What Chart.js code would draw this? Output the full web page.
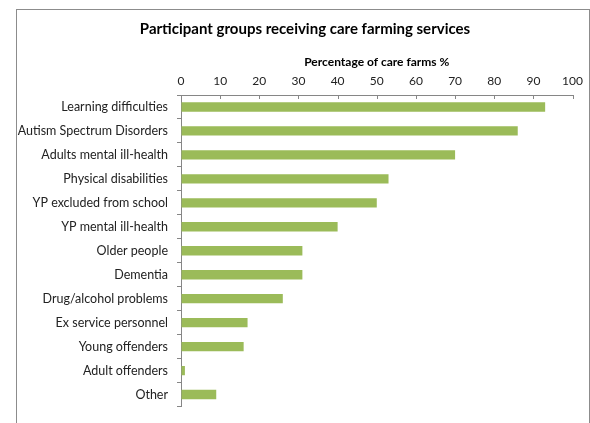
<!DOCTYPE html>
<html>
<head>
<meta charset="utf-8">
<title>Participant groups receiving care farming services</title>
<script src="https://cdn.jsdelivr.net/npm/chart.js@4/dist/chart.umd.min.js"></script>
<style>
    html, body { margin:0; padding:0; background:#fff; overflow:hidden; width:590px; height:423px; }
    #frame { position:absolute; left:16px; top:9px; width:572px; height:420px; border:1px solid #8c8c8c; border-bottom:none; }
    #wrap { position:absolute; left:0; top:0; width:590px; height:423px; }
</style>
</head>
<body>
<div id="frame"></div>
<div id="wrap"><canvas id="myChart" width="590" height="423"></canvas></div>

<script>
    var chartTitle = 'Participant groups receiving care farming services';
    var groups = ['Learning difficulties', 'Autism Spectrum Disorders', 'Adults mental ill-health',
        'Physical disabilities', 'YP excluded from school', 'YP mental ill-health', 'Older people',
        'Dementia', 'Drug/alcohol problems', 'Ex service personnel', 'Young offenders',
        'Adult offenders', 'Other'];
    var percentages = [93, 86, 70, 53, 50, 40, 31, 31, 26, 17, 16, 1, 9];
    var xMin = 0, xMax = 100, xStep = 10;

    var fontFamily = 'Lato, "Liberation Sans", sans-serif';
    var axisColor = '#868686';

    // ticks of the top axis point down into the plot, like the original
    var innerTicks = {
        id: 'innerTicks',
        afterDraw: function(chart) {
            var x = chart.scales.x;
            var c = chart.ctx;
            c.save();
            c.strokeStyle = axisColor;
            c.lineWidth = 1;
            x.ticks.forEach(function(t, i) {
                var px = Math.round(x.getPixelForTick(i)) + 0.5;
                c.beginPath();
                c.moveTo(px, x.bottom);
                c.lineTo(px, x.bottom + 4);
                c.stroke();
            });
            c.restore();
        }
    };

    // title centred on the framed box rather than the canvas
    var boxTitle = {
        id: 'boxTitle',
        afterDraw: function(chart) {
            var c = chart.ctx;
            c.save();
            c.fillStyle = '#000';
            c.font = 'bold 15px ' + fontFamily;
            c.textAlign = 'center';
            c.textBaseline = 'middle';
            c.fillText(chartTitle, 305, 29);
            c.restore();
        }
    };

    var ctx = document.getElementById('myChart');
    var myChart = new Chart(ctx, {
        type: 'bar',
        data: {
            labels: groups,
            datasets: [{
                label: 'Percentage of care farms %',
                data: percentages,
                backgroundColor: '#9bbb59',
                borderWidth: 0,
                barPercentage: 0.39,
                categoryPercentage: 1
            }]
        },
        options: {
            indexAxis: 'y',
            responsive: false,
            animation: false,
            layout: { padding: { left: 0, right: 13, bottom: 13, top: 38 } },
            plugins: {
                legend: { display: false },
                tooltip: { enabled: false },
                title: { display: false }
            },
            scales: {
                x: {
                    position: 'top',
                    min: xMin,
                    max: xMax,
                    ticks: { stepSize: xStep, color: '#222', padding: 7, font: { family: fontFamily, size: 12 } },
                    grid: { display: true, drawOnChartArea: false, drawTicks: false, tickLength: 0 },
                    border: { display: true, color: axisColor },
                    title: {
                        display: true,
                        text: 'Percentage of care farms %',
                        color: '#000',
                        font: { family: fontFamily, size: 12, weight: 'bold' },
                        padding: { top: 17, bottom: 0 }
                    },
                    afterFit: function(s) { s.height = 57; }
                },
                y: {
                    offset: true,
                    ticks: { color: '#222', padding: 9, font: { family: fontFamily, size: 12.5 } },
                    grid: { display: true, offset: true, drawOnChartArea: false, drawTicks: true, tickLength: 4, color: axisColor },
                    border: { display: true, color: axisColor },
                    afterFit: function(s) { s.width = 181; }
                }
            }
        },
        plugins: [innerTicks, boxTitle]
    });
</script>
</body>
</html>
